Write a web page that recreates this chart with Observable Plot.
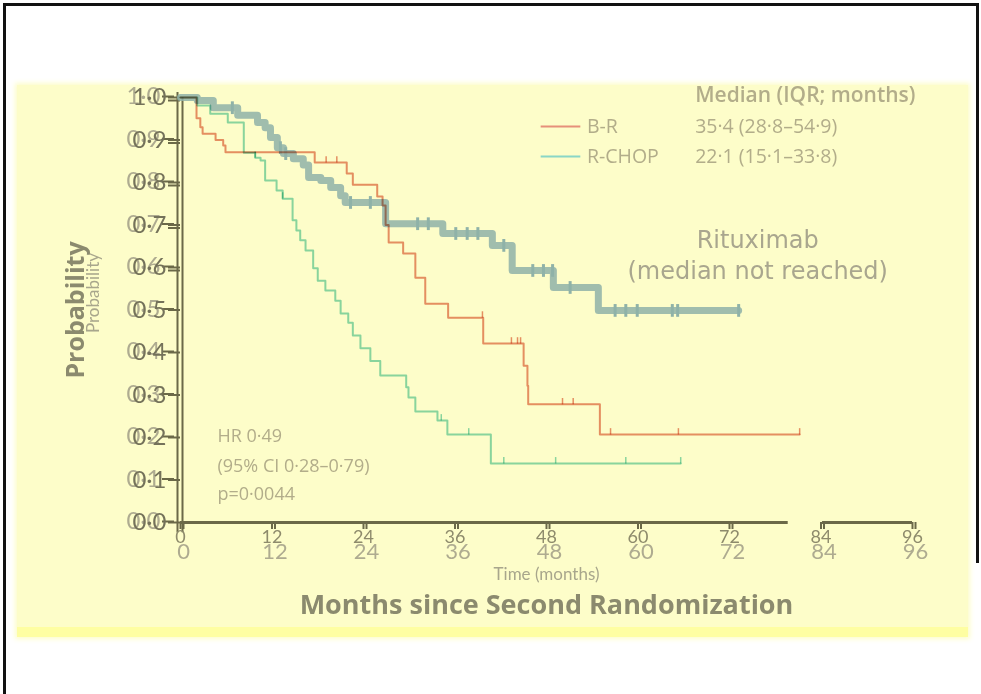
<!DOCTYPE html>
<html><head><meta charset="utf-8">
<script src="https://cdn.jsdelivr.net/npm/d3@7"></script>
<script src="https://cdn.jsdelivr.net/npm/@observablehq/plot@0.6"></script>
<style>
body{margin:0;background:#fff;width:981px;height:694px;overflow:hidden;position:relative;font-family:Lato,sans-serif}
#panel{position:absolute;left:17px;top:85px;width:951px;height:552px;background:#fdfdc9;box-shadow:0 0 5px 2px #fdfdc9}
#strip{position:absolute;left:17px;top:627px;width:951px;height:10px;background:#fefea2}
.b{position:absolute;background:#111}
#chart{position:absolute;left:0;top:0}
</style></head><body>
<div id="panel"></div><div id="strip"></div>
<div class="b" style="left:3px;top:3px;width:3px;height:691px"></div>
<div class="b" style="left:3px;top:3px;width:976px;height:3px"></div>
<div class="b" style="left:976px;top:3px;width:3px;height:560px"></div>
<div id="chart"></div>
<script>
// ---- data ----
const xTicks = [0, 12, 24, 36, 48, 60, 72, 84, 96];
const yTicks = [0, 0.1, 0.2, 0.3, 0.4, 0.5, 0.6, 0.7, 0.8, 0.9, 1.0];

const brTime = [0, 2.1, 2.6, 2.9, 4.6, 5.6, 5.9, 17.6, 21.8, 22.6, 25.8, 26.5, 26.9, 27.3, 29.2, 30.8, 32.1, 35.1, 39.7, 45.0, 45.5, 45.6, 55.0, 81.2];
const brSurv = [1.0, 0.951, 0.93, 0.915, 0.90, 0.887, 0.871, 0.847, 0.821, 0.795, 0.767, 0.746, 0.70, 0.659, 0.633, 0.576, 0.515, 0.482, 0.421, 0.369, 0.322, 0.278, 0.207, 0.207];
const brCensor = [19.1, 20.5, 39.6, 43.4, 44.2, 44.6, 50.1, 51.5, 56.4, 65.3, 81.2];

const rcTime = [0, 2.2, 3.9, 6.2, 8.3, 9.8, 10.5, 11.1, 12.6, 13.4, 14.7, 15.2, 15.7, 16.4, 17.4, 18.0, 19.0, 20.3, 21.0, 22.0, 22.6, 23.6, 24.9, 26.2, 29.6, 29.9, 30.8, 33.7, 35.0, 40.7, 65.6];
const rcSurv = [1.0, 0.981, 0.962, 0.941, 0.87, 0.858, 0.852, 0.805, 0.781, 0.762, 0.711, 0.687, 0.664, 0.64, 0.598, 0.569, 0.546, 0.522, 0.492, 0.47, 0.44, 0.41, 0.38, 0.346, 0.318, 0.294, 0.261, 0.24, 0.207, 0.139, 0.139];
const rcCensor = [9.8, 13.4, 34.2, 37.8, 42.4, 49.2, 58.4, 65.6];

const rxTime = [0, 2.2, 4.3, 7.5, 10.1, 11.1, 11.8, 12.7, 13.5, 14.8, 16.1, 16.8, 18.4, 19.7, 21.0, 21.6, 26.9, 34.4, 40.9, 43.5, 48.9, 54.8, 73.2];
const rxSurv = [1.0, 0.993, 0.976, 0.958, 0.941, 0.929, 0.906, 0.882, 0.868, 0.856, 0.841, 0.812, 0.805, 0.788, 0.769, 0.753, 0.703, 0.680, 0.652, 0.593, 0.553, 0.499, 0.499];
const rxCensor = [6.8, 13.1, 13.8, 22.3, 24.9, 31.1, 32.5, 36.1, 37.6, 39.0, 42.4, 46.2, 47.6, 48.8, 51.1, 57.0, 58.4, 59.9, 64.5, 65.2, 73.2];

const axisSegments = [[0, 79.7], [84.2, 96]];
const legendLabels = ["B-R", "R-CHOP"];
const legendValues = ["35·4 (28·8–54·9)", "22·1 (15·1–33·8)"];
const legendY = [0.932, 0.861];
const statsText = ["HR 0·49", "(95% CI 0·28–0·79)", "p=0·0044"];
const statsY = [0.202, 0.132, 0.066];
const rituxText = ["Rituximab", "(median not reached)"];
const rituxY = [0.664, 0.591];

// ---- helpers ----
const series = (T, S) => T.map((t, i) => ({t, s: S[i]}));
const survAt = (T, S, t) => { let s = S[0]; for (let i = 0; i < T.length; i++) if (T[i] <= t) s = S[i]; return s; };
const cens = (T, S, C) => C.map(t => ({t, s: survAt(T, S, t)}));
const fmt = d => d.toFixed(1).replace(".", "·");

const RED = "#e6907a", TEAL = "#8ad6c6", GREY = "#8fb2a8";
const AX = "#6b6948", LBL = "#74725a", GHOST = "#aeab90", TXT = "#b2ad8a";
const OS = "'Open Sans', sans-serif", DV = "'DejaVu Sans', sans-serif";

const br = series(brTime, brSurv), rc = series(rcTime, rcSurv), rx = series(rxTime, rxSurv);

const chart = Plot.plot({
  width: 981, height: 694,
  marginLeft: 180, marginRight: 69, marginTop: 97, marginBottom: 172,
  style: {background: "transparent", fontFamily: "Lato, sans-serif"},
  x: {domain: [0, 96]},
  y: {domain: [0, 1]},
  marks: [
    // axes
    Plot.axisY({ticks: yTicks, tickFormat: fmt, tickSize: 12, stroke: AX, strokeWidth: 2, fill: GHOST, fontSize: 24, dx: -6, dy: -1, tickPadding: 2, label: null}),
    Plot.axisY({ticks: yTicks, tickFormat: fmt, tickSize: 12, stroke: AX, strokeWidth: 2, fill: LBL, fontSize: 24, tickPadding: 2, label: null}),
    Plot.axisY({ticks: yTicks.filter(d => d >= 0.6), tickFormat: () => "", tickSize: 12, stroke: AX, strokeWidth: 2, dy: 3, label: null}),
    Plot.ruleX([0], {y1: -0.024, y2: 1.012, stroke: AX, strokeWidth: 2, dx: -3}),
    Plot.ruleX([0], {y1: -0.024, y2: 1.0, stroke: AX, strokeWidth: 2, dx: 2}),
    Plot.axisX({ticks: xTicks, tickSize: 7, stroke: AX, strokeWidth: 2, fill: GHOST, fontSize: 22, tickPadding: 14, dx: 3, label: null}),
    Plot.axisX({ticks: xTicks, tickSize: 7, stroke: AX, strokeWidth: 2, fill: "#8e8b6c", fontSize: 18, tickPadding: 1, label: null}),
    Plot.ruleY(axisSegments, {x1: d => d[0], x2: d => d[1], y: 0, stroke: AX, strokeWidth: 3}),
    // curves
    Plot.line(rx, {x: "t", y: "s", curve: "step-after", stroke: GREY, strokeWidth: 7, strokeOpacity: 0.85}),
    Plot.link(cens(rxTime, rxSurv, rxCensor), {x1: "t", x2: "t", y1: d => d.s - 0.015, y2: d => d.s + 0.015, stroke: GREY, strokeWidth: 3}),
    Plot.line(rc, {x: "t", y: "s", curve: "step-after", stroke: TEAL, strokeWidth: 2, mixBlendMode: "multiply"}),
    Plot.link(cens(rcTime, rcSurv, rcCensor), {x1: "t", x2: "t", y1: "s", y2: d => d.s + 0.015, stroke: TEAL, strokeWidth: 1.5, mixBlendMode: "multiply"}),
    Plot.line(br, {x: "t", y: "s", curve: "step-after", stroke: RED, strokeWidth: 2, mixBlendMode: "multiply"}),
    Plot.link(cens(brTime, brSurv, brCensor), {x1: "t", x2: "t", y1: "s", y2: d => d.s + 0.015, stroke: RED, strokeWidth: 1.5, mixBlendMode: "multiply"}),
    // legend
    Plot.ruleY(legendY, {x1: 47.3, x2: 52.5, stroke: [RED, TEAL], strokeWidth: 2}),
    Plot.text(legendLabels, {x: 53.3, y: (d, i) => legendY[i], text: d => d, textAnchor: "start", fill: TXT, fontSize: 19.5, fontFamily: OS}),
    Plot.text(legendValues, {x: 67.5, y: (d, i) => legendY[i], text: d => d, textAnchor: "start", fill: TXT, fontSize: 19.5, fontFamily: OS}),
    Plot.text(["Median (IQR; months)"], {x: 67.5, y: 1.005, textAnchor: "start", fill: TXT, fontSize: 21, fontWeight: 600, fontFamily: OS}),
    // annotations
    Plot.text(rituxText, {x: 75.7, y: (d, i) => rituxY[i], text: d => d, fill: "#a9a68e", fontSize: 24, fontFamily: DV}),
    Plot.text(statsText, {x: 4.85, y: (d, i) => statsY[i], text: d => d, textAnchor: "start", fill: TXT, fontSize: 18, fontFamily: OS}),
    // axis titles
    Plot.text(["Time (months)"], {frameAnchor: "bottom", dy: 57, fill: "#a8a68c", fontSize: 17}),
    Plot.text(["Months since Second Randomization"], {frameAnchor: "bottom", dy: 91, fill: "#8b8a6e", fontSize: 27, fontWeight: "bold", fontFamily: OS}),
    Plot.text(["Probability"], {frameAnchor: "left", y: 0.5, dx: -105, rotate: -90, textAnchor: "middle", fill: "#8b8a6e", fontSize: 25, fontWeight: "bold", fontFamily: OS}),
    Plot.text(["Probability"], {frameAnchor: "left", y: 0.54, dx: -87, rotate: -90, textAnchor: "middle", fill: "#a8a68c", fontSize: 17})
  ]
});
document.getElementById("chart").appendChild(chart);
</script>
</body></html>
